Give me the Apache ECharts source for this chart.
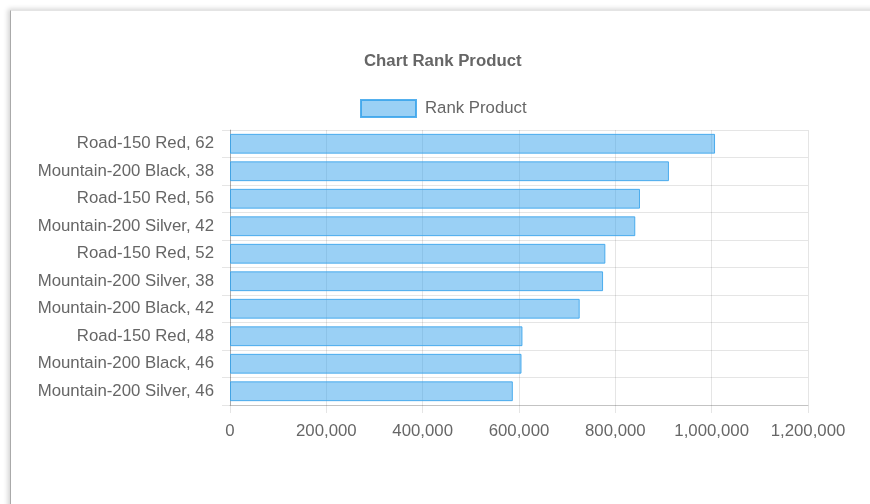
<!DOCTYPE html>
<html>
<head>
<meta charset="utf-8">
<script src="https://cdn.jsdelivr.net/npm/echarts@6/dist/echarts.min.js"></script>
<style>
html,body{margin:0;padding:0;width:870px;height:504px;overflow:hidden;background:#fff;}
#card{position:absolute;left:10px;top:10px;width:900px;height:600px;border-left:1px solid #aaa;border-top:1px solid #e4e4e4;box-shadow:-2px -1px 5px rgba(0,0,0,0.18);background:#fff;}
#chart{position:absolute;left:0;top:0;width:870px;height:504px;}
</style>
</head>
<body>
<div id="card"></div>
<div id="chart"></div>
<script>
const categories = [
  "Road-150 Red, 62",
  "Mountain-200 Black, 38",
  "Road-150 Red, 56",
  "Mountain-200 Silver, 42",
  "Road-150 Red, 52",
  "Mountain-200 Silver, 38",
  "Mountain-200 Black, 42",
  "Road-150 Red, 48",
  "Mountain-200 Black, 46",
  "Mountain-200 Silver, 46"
];
const values = [1007000, 911300, 851200, 841400, 779300, 774500, 726000, 607200, 605200, 587200];
const seriesName = "Rank Product";
const titleText = "Chart Rank Product";

const chart = echarts.init(document.getElementById('chart'), null, {renderer: 'canvas'});
const font = 'Arial, "Liberation Sans", Helvetica, sans-serif';
chart.setOption({
  animation: false,
  backgroundColor: 'transparent',
  title: {
    text: titleText,
    left: 364,
    top: 53,
    padding: 0,
    textStyle: {fontSize: 16.8, fontWeight: 'bold', color: '#666', fontFamily: font}
  },
  legend: {
    left: 360,
    top: 99,
    padding: 0,
    itemWidth: 55,
    itemHeight: 17,
    itemGap: 10,
    icon: 'rect',
    textStyle: {fontSize: 16.8, color: '#666', fontFamily: font, padding: [0,0,0,4]},
    data: [seriesName]
  },
  grid: {left: 230, right: 62, top: 130, bottom: 99, containLabel: false},
  xAxis: {
    type: 'value',
    min: 0,
    max: 1200000,
    interval: 200000,
    axisLine: {show: true, lineStyle: {color: 'rgba(0,0,0,0.15)'}},
    axisTick: {show: true, length: 8, lineStyle: {color: 'rgba(0,0,0,0.1)'}},
    splitLine: {show: true, lineStyle: {color: 'rgba(0,0,0,0.1)'}},
    axisLabel: {
      margin: 18,
      fontSize: 16.8,
      color: '#666',
      fontFamily: font,
      formatter: v => v.toLocaleString('en-US')
    }
  },
  yAxis: {
    type: 'category',
    data: categories,
    inverse: true,
    axisLine: {show: true, lineStyle: {color: 'rgba(0,0,0,0.25)'}},
    axisTick: {show: true, length: 8, alignWithLabel: false, lineStyle: {color: 'rgba(0,0,0,0.1)'}},
    splitLine: {show: true, lineStyle: {color: 'rgba(0,0,0,0.1)'}},
    axisLabel: {margin: 16, fontSize: 16.8, color: '#666', fontFamily: font}
  },
  series: [{
    name: seriesName,
    type: 'bar',
    data: values,
    barCategoryGap: '28%',
    itemStyle: {color: 'rgba(54,162,235,0.5)', borderColor: 'rgba(54,162,235,0.85)', borderWidth: 1}
  }]
});
</script>
</body>
</html>
